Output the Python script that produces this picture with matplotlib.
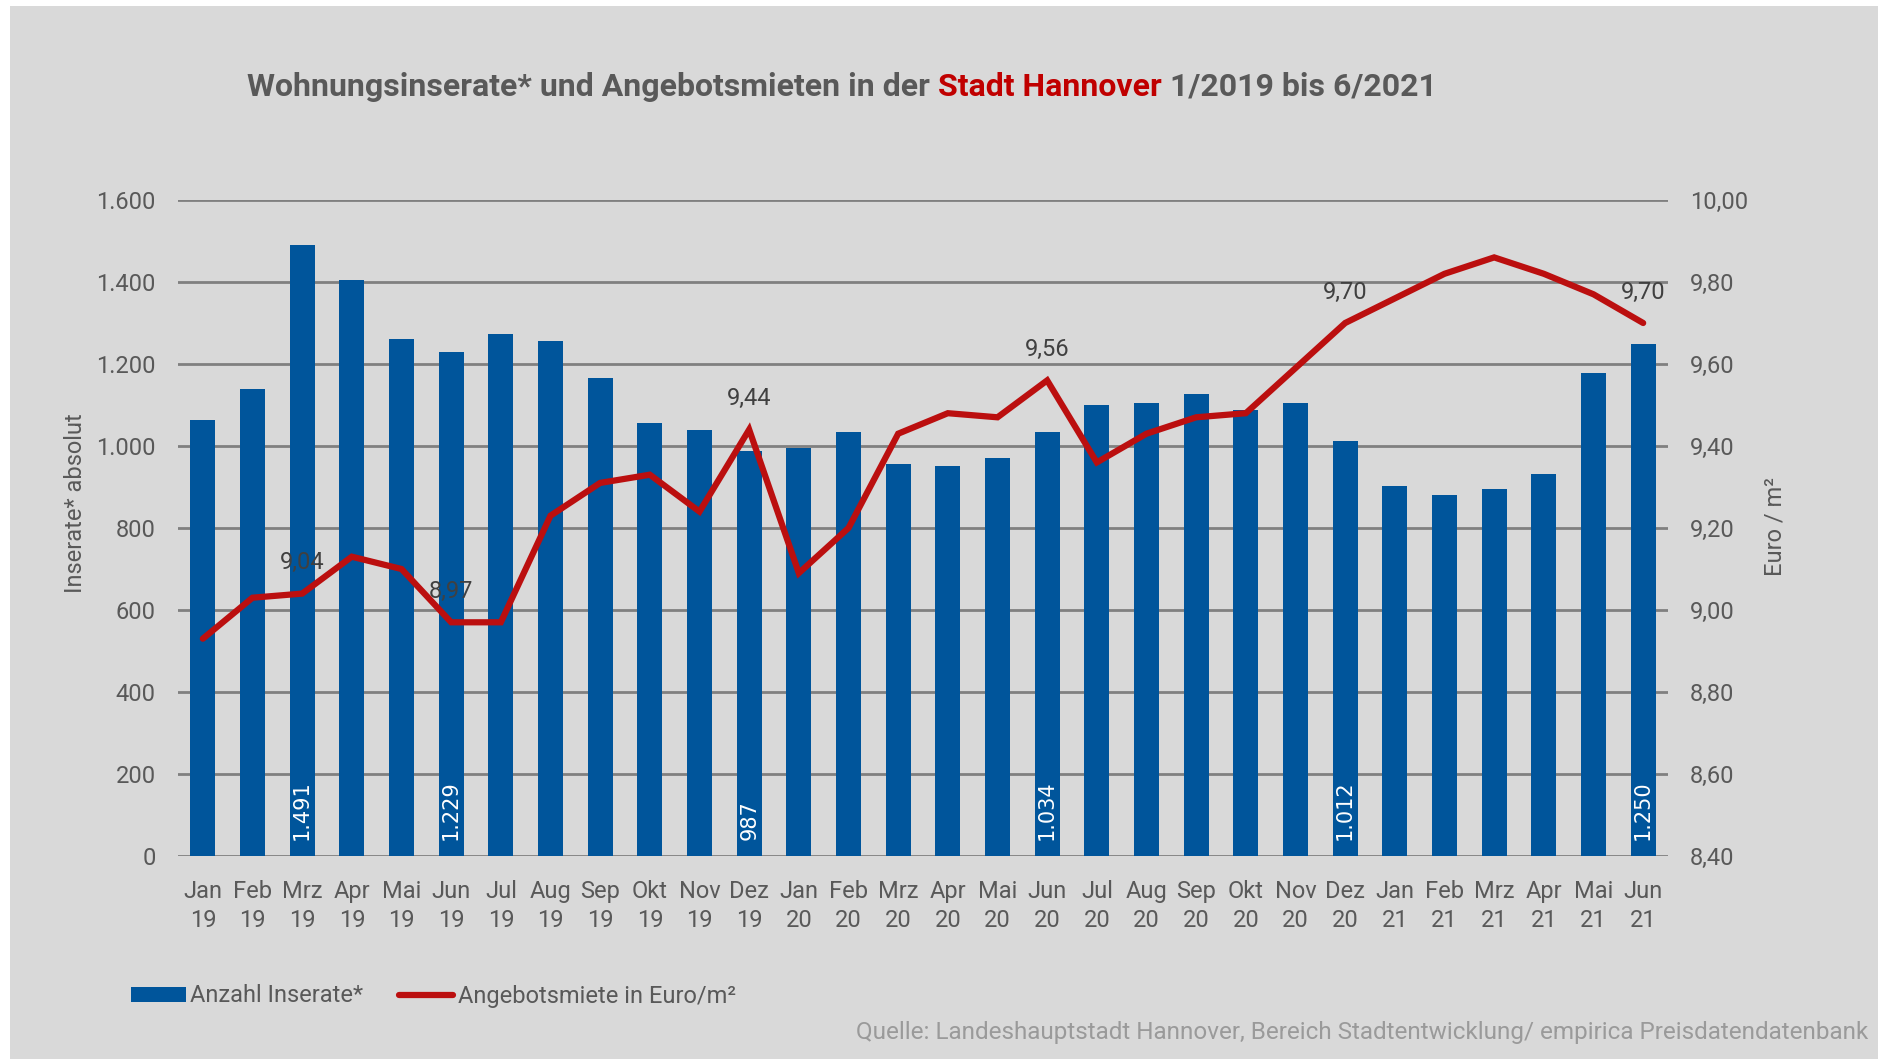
import matplotlib
matplotlib.use("Agg")
import matplotlib.pyplot as plt
from matplotlib import font_manager
from matplotlib.patches import Rectangle, Patch
from matplotlib.lines import Line2D
import numpy as np

# pick a narrow font if there is one
names = set(f.name for f in font_manager.fontManager.ttflist)
font = "Liberation Sans Narrow" if "Liberation Sans Narrow" in names else "Roboto"
plt.rcParams['font.family'] = [font, 'DejaVu Sans']

months = ["Jan", "Feb", "Mrz", "Apr", "Mai", "Jun", "Jul", "Aug", "Sep", "Okt", "Nov", "Dez",
          "Jan", "Feb", "Mrz", "Apr", "Mai", "Jun", "Jul", "Aug", "Sep", "Okt", "Nov", "Dez",
          "Jan", "Feb", "Mrz", "Apr", "Mai", "Jun"]
years = ["19"] * 12 + ["20"] * 12 + ["21"] * 6

inserate = [1063, 1140, 1491, 1404, 1262, 1229, 1274, 1256, 1166, 1057, 1040, 987,
            994, 1034, 956, 950, 970, 1034, 1101, 1105, 1127, 1087, 1104, 1012,
            903, 880, 894, 932, 1177, 1250]
miete = [8.93, 9.03, 9.04, 9.13, 9.10, 8.97, 8.97, 9.23, 9.31, 9.33, 9.24, 9.44,
         9.09, 9.20, 9.43, 9.48, 9.47, 9.56, 9.36, 9.43, 9.47, 9.48, 9.59, 9.70,
         9.76, 9.82, 9.86, 9.82, 9.77, 9.70]
label_idx = [2, 5, 11, 17, 23, 29]

blue = "#00559b"
red = "#bb0f0f"
grey_txt = "#595959"
bg = "#d9d9d9"

fig = plt.figure(figsize=(18.78, 10.59), dpi=100)
fig.patch.set_facecolor("white")
fig.patches.append(Rectangle((10 / 1878, 0), 1, 1 - 6 / 1059, transform=fig.transFigure,
                             facecolor=bg, edgecolor="none", zorder=-5))

ax = fig.add_axes([178 / 1878, 1 - 856 / 1059, 1490 / 1878, 656 / 1059])
ax.set_facecolor("none")
x = np.arange(len(months))
ax.bar(x, inserate, width=0.5, color=blue, zorder=2)
ax.set_xlim(-0.5, 29.5)
ax.set_ylim(0, 1600)
ax.set_yticks(np.arange(0, 1601, 200))
ax.set_yticklabels([f"{v:,}".replace(",", ".") for v in range(0, 1601, 200)])
ax.grid(axis="y", color="#808080", linewidth=2, zorder=0)
ax.set_axisbelow(True)
ax.set_xticks(x)
ax.set_xticklabels([m + "\n" + y for m, y in zip(months, years)], linespacing=1.35)
ax.tick_params(axis="both", length=0, labelsize=17, labelcolor=grey_txt)
ax.tick_params(axis="y", pad=16)
ax.tick_params(axis="x", pad=17)
for s in ax.spines.values():
    s.set_visible(False)

for i in label_idx:
    ax.text(x[i], 38, f"{inserate[i]:,}".replace(",", "."), rotation=90, ha="center",
            va="bottom", color="white", fontsize=15, family="DejaVu Sans", zorder=3)

ax2 = ax.twinx()
ax2.plot(x, miete, color=red, linewidth=4.5, solid_capstyle="round", solid_joinstyle="miter")
ax2.set_ylim(8.4, 10.0)
ax2.set_yticks(np.arange(8.4, 10.01, 0.2))
ax2.set_yticklabels([f"{v:.2f}".replace(".", ",") for v in np.arange(8.4, 10.01, 0.2)])
ax2.tick_params(axis="y", length=0, labelsize=17, labelcolor=grey_txt, pad=16)
for s in ax2.spines.values():
    s.set_visible(False)
for i in label_idx:
    ax2.annotate(f"{miete[i]:.2f}".replace(".", ","), (x[i], miete[i]), xytext=(0, 14),
                 textcoords="offset points", ha="center", va="bottom", fontsize=17, color="#404040")

fig.text(75 / 1878, 1 - 503 / 1059, "Inserate* absolut", rotation=90, ha="center", va="center",
         fontsize=17, color=grey_txt)
fig.text(1775 / 1878, 1 - 527 / 1059, "Euro / m²", rotation=90, ha="center", va="center",
         fontsize=17, color=grey_txt)

# title in three pieces
t1 = fig.text(247 / 1878, 1 - 87 / 1059, "Wohnungsinserate* und Angebotsmieten in der ",
              fontsize=23, fontweight="bold", color=grey_txt, va="center")
fig.canvas.draw()
bb = t1.get_window_extent()
t2 = fig.text(bb.x1 / 1878, 1 - 87 / 1059, "Stadt Hannover", fontsize=23, fontweight="bold",
              color="#c00000", va="center")
fig.canvas.draw()
bb = t2.get_window_extent()
fig.text(bb.x1 / 1878, 1 - 87 / 1059, " 1/2019 bis 6/2021", fontsize=23, fontweight="bold",
         color=grey_txt, va="center")

handles = [Patch(facecolor=blue, edgecolor="none"),
           Line2D([], [], color=red, linewidth=4.5, solid_capstyle="round")]
fig.legend(handles, ["Anzahl Inserate*", "Angebotsmiete in Euro/m²"], loc="center left",
           bbox_to_anchor=(110 / 1878, 1 - 996 / 1059), ncol=2, frameon=False, fontsize=17,
           labelcolor=grey_txt, handlelength=2.3, handleheight=0.6, handletextpad=0.2,
           columnspacing=1.5)

fig.text(1868 / 1878, 1 - 1032 / 1059,
         "Quelle: Landeshauptstadt Hannover, Bereich Stadtentwicklung/ empirica Preisdatendatenbank",
         ha="right", va="center", fontsize=17.5, color="#9a9a9a")

fig.savefig("out.png", dpi=100, facecolor=fig.get_facecolor())
